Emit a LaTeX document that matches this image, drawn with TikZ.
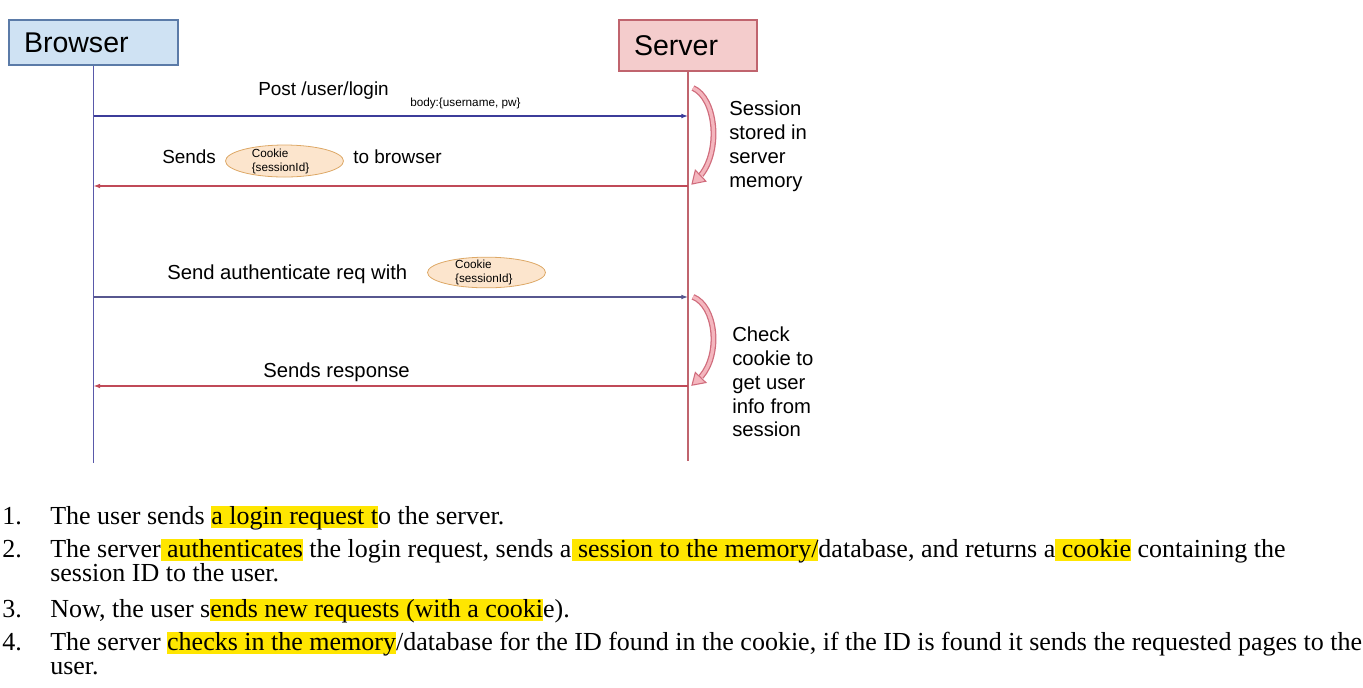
\documentclass[tikz,border=0pt]{standalone}
\usepackage{fontspec}
\setmainfont{Liberation Serif}
\newfontfamily\diagfont{Liberation Sans}
\usetikzlibrary{shapes,arrows.meta,positioning,calc}
\definecolor{browserfill}{HTML}{CFE2F3}
\definecolor{browserdraw}{HTML}{5B7BA8}
\definecolor{serverfill}{HTML}{F4CCCC}
\definecolor{serverdraw}{HTML}{C0646E}
\definecolor{reqline}{HTML}{3C3C9A}
\definecolor{resline}{HTML}{C04A58}
\definecolor{cookiefill}{HTML}{FCE5CD}
\definecolor{cookiedraw}{HTML}{DDA866}
\definecolor{turnfill}{HTML}{F4B6BE}
\definecolor{turndraw}{HTML}{D06C7C}
\definecolor{marker}{HTML}{FFE600}
\newsavebox\hlbox
\newcommand{\hl}[1]{\sbox\hlbox{#1}\rlap{\textcolor{marker}{\rule[-0.15em]{\wd\hlbox}{0.85em}}}\usebox\hlbox}
% curved arrow beside the server lifeline: #1 top, #2 vertical scale
\newcommand{\turnarrow}[2]{%
  \begin{scope}[shift={(0,#1)}, yscale=#2]
    \draw[turndraw, line width=4.4pt] (693,2) .. controls (716,12) and (721,64) .. (701,89);
    \draw[turnfill, line width=2.5pt] (693,2) .. controls (716,12) and (721,64) .. (701,89);
    \filldraw[fill=turnfill, draw=turndraw, line width=0.8pt] (692,98) -- (695.3,84.2) -- (705.9,95.2) -- cycle;
  \end{scope}}
\tikzset{
actor/.style = {draw, rectangle, align=left, inner xsep=11.25pt, inner ysep=0pt, line width=0.8pt, font=\diagfont\fontsize{21.4}{25}\selectfont},
browserbox/.style = {actor, fill=browserfill, draw=browserdraw, minimum width=126.75pt, text width=104.25pt, minimum height=33.75pt},
serverbox/.style = {actor, fill=serverfill, draw=serverdraw, minimum width=103.5pt, text width=81pt, minimum height=38.25pt},
bline/.style = {draw=reqline!85, line width=0.9pt},
sline/.style = {draw=serverdraw, line width=0.8pt},
req/.style = {->, draw=reqline, line width=0.9pt},
req2/.style = {->, draw=reqline!60!gray, line width=0.9pt},
res/.style = {->, draw=resline, line width=0.9pt},
msg/.style = {font=\diagfont\fontsize{14.2}{17}\selectfont, inner sep=0pt, anchor=base west},
bigmsg/.style = {msg, font=\diagfont\fontsize{15.2}{18}\selectfont},
small/.style = {font=\diagfont\fontsize{8.8}{10.5}\selectfont, inner sep=0pt, align=left},
cookie/.style = {draw=cookiedraw, fill=cookiefill, ellipse, minimum width=88.5pt, minimum height=24pt, inner sep=0pt, line width=0.6pt},
note/.style = {font=\diagfont\fontsize{15.2}{17.8}\selectfont, align=left, anchor=north west, inner sep=0pt},
listnum/.style = {font=\fontsize{19.5}{23}\selectfont, inner sep=0pt, anchor=base west},
listline/.style = {listnum},
}
\begin{document}
\begin{tikzpicture}[x=0.75pt, y=-0.75pt, >={Latex[length=5pt,width=3.6pt]}]
      \useasboundingbox (0,0) rectangle (1363,687);
      % actors and lifelines
      \node [browserbox] (browser) at (93.5,42.5) {Browser};
      \node [serverbox] (server) at (688,45.5) {Server};
      \coordinate (bend) at (browser.south |- 0,463);
      \coordinate (send) at (server.south |- 0,461);
      \draw [bline] (browser) -- (bend);
      \draw [sline] (server) -- (send);
      % login request
      \coordinate (b1) at (browser.south |- 0,116);
      \coordinate (s1) at (server.south |- 0,116);
      \draw [req] (b1) -- (s1);
      \node [msg] (post) at (258,95) {Post /user/login};
      \node [small, anchor=west] (body) at (410,103) {body:\{username, pw\}};
      % cookie back to browser
      \coordinate (s2) at (server.south |- 0,186);
      \coordinate (b2) at (browser.south |- 0,186);
      \draw [res] (s2) -- (b2);
      \node [msg] (sends) at (162,163) {Sends};
      \node [cookie] (ck1) at (284.5,161) {};
      \node [small] (ck1t) at ([xshift=-3pt]ck1) {Cookie\\\{sessionId\}};
      \node [msg] (tobrowser) at (353,163) {to browser};
      \turnarrow{86}{1}
      \node [note] (memnote) at (729,101) {Session\\stored in\\server\\memory};
      % authenticated request
      \coordinate (b3) at (browser.south |- 0,297);
      \coordinate (s3) at (server.south |- 0,297);
      \draw [req2] (b3) -- (s3);
      \node [bigmsg] (authreq) at (167,279) {Send authenticate req with};
      \node [cookie, minimum height=23pt] (ck2) at (486.5,272.5) {};
      \node [small] (ck2t) at ([xshift=-2pt]ck2) {Cookie\\\{sessionId\}};
      % response
      \coordinate (s4) at (server.south |- 0,386);
      \coordinate (b4) at (browser.south |- 0,386);
      \draw [res] (s4) -- (b4);
      \node [bigmsg] (resp) at (263,377) {Sends response};
      \turnarrow{295}{0.92}
      \node [note] (checknote) at (732,327) {Check\\cookie to\\get user\\info from\\session};
      % numbered steps
      \node [listnum] (n1) at (2,524) {1.};
      \node [listline] (l1) at (50,524) {The user sends \hl{a login request t}o the server.};
      \node [listnum] (n2) at (2,557) {2.};
      \node [listline] (l2) at (50,557) {The server\hl{ authenticates} the login request, sends a\hl{ session to the memory/}database, and returns a\hl{ cookie} containing the};
      \node [listline] (l2b) at (50,581) {session ID to the user.};
      \node [listnum] (n3) at (2,617) {3.};
      \node [listline] (l3) at (50,617) {Now, the user s\hl{ends new requests (with a cooki}e).};
      \node [listnum] (n4) at (2,650) {4.};
      \node [listline] (l4) at (50,650) {The server \hl{checks in the memory}/database for the ID found in the cookie, if the ID is found it sends the requested pages to the};
      \node [listline] (l4b) at (50,674) {user.};
\end{tikzpicture}
\end{document}
